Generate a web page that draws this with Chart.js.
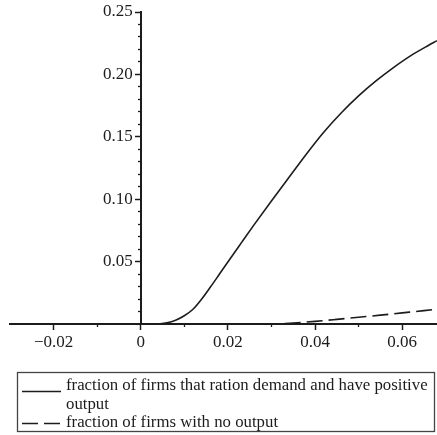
<!DOCTYPE html>
<html>
<head>
<meta charset="utf-8">
<script src="https://cdn.jsdelivr.net/npm/chart.js@4.4.1/dist/chart.umd.min.js"></script>
<style>
html,body{margin:0;padding:0;background:#fff;}
#wrap{width:437px;height:435px;position:relative;}
canvas{display:block;}
</style>
</head>
<body>
<div id="wrap"><canvas id="c"></canvas></div>
<script>
// ---- data ----
const seriesLabels = [
  'fraction of firms that ration demand and have positive output',
  'fraction of firms with no output'
];
const rationX = [0, 0.004, 0.006, 0.008, 0.010, 0.012, 0.014, 0.016, 0.018, 0.020, 0.023, 0.026, 0.030, 0.034, 0.038, 0.042, 0.046, 0.050, 0.054, 0.058, 0.062, 0.066, 0.068];
const rationY = [0, 0, 0.0009, 0.0030, 0.0066, 0.0118, 0.0200, 0.0296, 0.0396, 0.0497, 0.0646, 0.0794, 0.0986, 0.1174, 0.1361, 0.1537, 0.1691, 0.1828, 0.1948, 0.2055, 0.2151, 0.2232, 0.2270];
const noOutX = [0.028, 0.03, 0.035, 0.04, 0.045, 0.05, 0.055, 0.06, 0.065, 0.068];
const noOutY = [0, 0, 0.0008, 0.0021, 0.0037, 0.0054, 0.0071, 0.0089, 0.0107, 0.0118];

const xMajorTicks = [-0.02, 0, 0.02, 0.04, 0.06];
const xTickLabels = ['\u22120.02', '0', '0.02', '0.04', '0.06'];
const xMinorTicks = [-0.01, 0.01, 0.03, 0.05];
const yMajorTicks = [0.05, 0.10, 0.15, 0.20, 0.25];
const yTickLabels = ['0.05', '0.10', '0.15', '0.20', '0.25'];
const yMinorTicks = [0.01, 0.02, 0.03, 0.04, 0.06, 0.07, 0.08, 0.09, 0.11, 0.12, 0.13, 0.14, 0.16, 0.17, 0.18, 0.19, 0.21, 0.22, 0.23, 0.24];

const X_MIN = -0.03, X_MAX = 0.068, Y_MIN = 0, Y_MAX = 0.25;
const Y_LABEL_ANCHOR = -0.0018; // right edge of the y tick labels (a little left of the axis)

// ---- styling ----
const INK = '#1c1c1c';
const FONT = 'Liberation Serif';

const toPoints = (xs, ys) => xs.map((x, i) => ({x: x, y: ys[i]}));
const setTicks = (arr) => (scale) => { scale.ticks = arr.map(v => ({value: v})); };
const zeroFit = (scale) => {
  if (scale.isHorizontal()) scale.height = 0; else scale.width = 0;
  scale.paddingLeft = 0; scale.paddingRight = 0; scale.paddingTop = 0; scale.paddingBottom = 0;
};

const legendPlugin = {
  id: 'boxLegend',
  afterDraw(chart) {
    const o = chart.options.plugins.boxLegend;
    const ctx = chart.ctx;
    ctx.save();
    ctx.strokeStyle = o.borderColor;
    ctx.lineWidth = o.borderWidth;
    ctx.setLineDash([]);
    ctx.strokeRect(o.left, o.top, o.width, o.height);
    ctx.font = o.fontSize + 'px "' + o.fontFamily + '"';
    ctx.fillStyle = o.color;
    ctx.textBaseline = 'alphabetic';
    ctx.textAlign = 'left';
    let y = o.firstBaseline;
    chart.data.datasets.forEach((ds, di) => {
      const words = ds.label.split(' ');
      const lines = [];
      let cur = '';
      words.forEach(w => {
        const t = cur ? cur + ' ' + w : w;
        if (ctx.measureText(t).width > o.maxTextWidth && cur) { lines.push(cur); cur = w; }
        else cur = t;
      });
      if (cur) lines.push(cur);
      ctx.beginPath();
      ctx.setLineDash(ds.borderDash || []);
      ctx.lineWidth = ds.borderWidth;
      ctx.strokeStyle = ds.borderColor;
      const sy = y + o.sampleOffsets[di];
      ctx.moveTo(o.sampleX1, sy);
      ctx.lineTo(o.sampleX2, sy);
      ctx.stroke();
      ctx.setLineDash([]);
      lines.forEach(l => { ctx.fillText(l, o.textX, y); y += o.lineStep; });
    });
    ctx.restore();
  }
};

const tickFont = {family: FONT, size: 17};

new Chart(document.getElementById('c'), {
  type: 'line',
  data: {
    datasets: [
      {
        label: seriesLabels[0],
        data: toPoints(rationX, rationY),
        borderColor: INK, borderWidth: 1.6,
        pointRadius: 0, fill: false, cubicInterpolationMode: 'monotone'
      },
      {
        label: seriesLabels[1],
        data: toPoints(noOutX, noOutY),
        borderColor: INK, borderWidth: 1.6, borderDash: [16, 6],
        pointRadius: 0, fill: false, cubicInterpolationMode: 'monotone'
      }
    ]
  },
  options: {
    responsive: true,
    maintainAspectRatio: false,
    animation: false,
    layout: {padding: {left: 10, right: 0, top: 12, bottom: 111}},
    plugins: {
      legend: {display: false},
      tooltip: {enabled: false},
      boxLegend: {
        left: 17.5, top: 372.5, width: 417, height: 59,
        borderColor: '#444', borderWidth: 1.3,
        fontSize: 16.8, fontFamily: FONT, color: INK,
        firstBaseline: 390, lineStep: 18.5, textX: 66, maxTextWidth: 366,
        sampleX1: 22, sampleX2: 61, sampleOffsets: [1.5, -3.5]
      }
    },
    scales: {
      x: {
        type: 'linear', min: X_MIN, max: X_MAX,
        position: {y: 0},
        afterBuildTicks: setTicks(xMajorTicks),
        afterFit: zeroFit,
        border: {display: true, color: INK, width: 2},
        grid: {drawOnChartArea: false, drawTicks: true, tickLength: 5, tickWidth: 1.5, tickColor: INK},
        ticks: {autoSkip: false, maxRotation: 0, padding: 3, color: INK, font: tickFont,
                callback: (v, i) => xTickLabels[i]}
      },
      xMinor: {
        type: 'linear', axis: 'x', min: X_MIN, max: X_MAX,
        position: {y: 0},
        afterBuildTicks: setTicks(xMinorTicks),
        afterFit: zeroFit,
        border: {display: false},
        grid: {drawOnChartArea: false, drawTicks: true, tickLength: 3, tickWidth: 1.3, tickColor: INK},
        ticks: {display: false, autoSkip: false}
      },
      y: {
        type: 'linear', min: Y_MIN, max: Y_MAX,
        position: {x: 0},
        afterBuildTicks: setTicks(yMajorTicks),
        afterFit: zeroFit,
        border: {display: true, color: INK, width: 2},
        grid: {drawOnChartArea: false, drawTicks: true, tickLength: 5, tickWidth: 1.5, tickColor: INK},
        ticks: {display: false, autoSkip: false}
      },
      yMinor: {
        type: 'linear', axis: 'y', min: Y_MIN, max: Y_MAX,
        position: {x: 0},
        afterBuildTicks: setTicks(yMinorTicks),
        afterFit: zeroFit,
        border: {display: false},
        grid: {drawOnChartArea: false, drawTicks: true, tickLength: 3, tickWidth: 1.3, tickColor: INK},
        ticks: {display: false, autoSkip: false}
      },
      yLabels: {
        type: 'linear', axis: 'y', min: Y_MIN, max: Y_MAX,
        position: {x: Y_LABEL_ANCHOR},
        afterBuildTicks: setTicks(yMajorTicks),
        afterFit: zeroFit,
        border: {display: false},
        grid: {display: false, drawOnChartArea: false, drawTicks: false},
        ticks: {autoSkip: false, padding: 0, color: INK, font: tickFont,
                callback: (v, i) => yTickLabels[i]}
      }
    }
  },
  plugins: [legendPlugin]
});
</script>
</body>
</html>
